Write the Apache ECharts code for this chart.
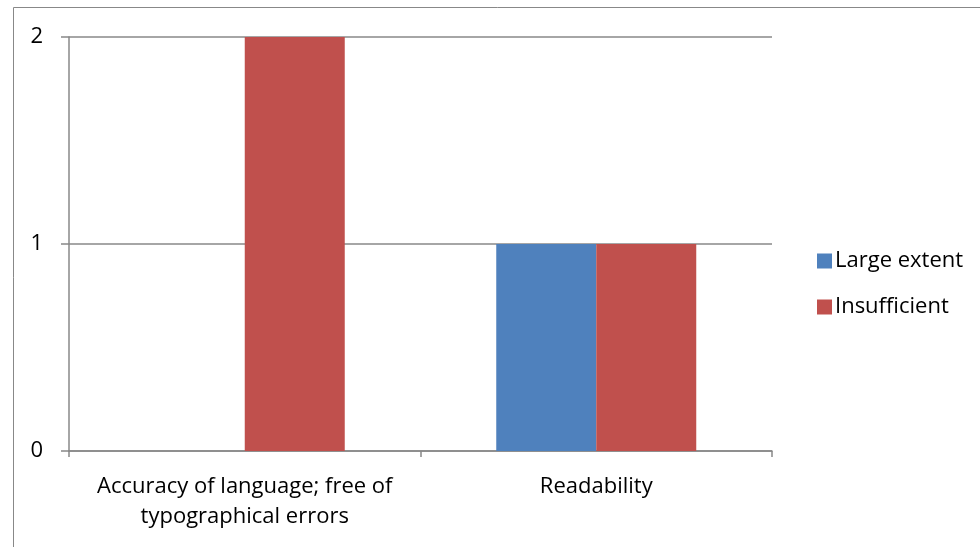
<!DOCTYPE html>
<html>
<head>
<meta charset="utf-8">
<script src="https://cdn.jsdelivr.net/npm/echarts@6/dist/echarts.min.js"></script>
<style>
  html, body { margin: 0; padding: 0; background: #fff; }
  #chart { width: 980px; height: 547px; }
</style>
</head>
<body>
<div id="chart"></div>
<script>
const categories = ['Accuracy of language; free of\ntypographical errors', 'Readability'];
const largeExtent = [0, 1];
const insufficient = [2, 1];
const yTicks = [0, 1, 2];

const chart = echarts.init(document.getElementById('chart'));
const font = 'Open Sans, Noto Sans, sans-serif';

chart.setOption({
  animation: false,
  textStyle: { fontFamily: font },
  graphic: [{
    type: 'rect',
    shape: { x: 13.5, y: 7.5, width: 1000, height: 600 },
    style: { fill: 'none', stroke: '#888', lineWidth: 1 },
    silent: true
  }],
  legend: {
    orient: 'vertical',
    left: 812,
    top: 241,
    itemWidth: 15,
    itemHeight: 15,
    itemGap: 16,
    icon: 'rect',
    textStyle: { fontSize: 22, lineHeight: 30, color: '#000', fontFamily: font, padding: [0, 0, 0, -2] },
    data: ['Large extent', 'Insufficient']
  },
  grid: { left: 69, right: 208, top: 37, bottom: 96 },
  xAxis: {
    type: 'category',
    data: categories,
    axisLine: { lineStyle: { color: '#888', width: 1.5 } },
    axisTick: { show: true, interval: 0, length: 6, lineStyle: { color: '#888', width: 1.5 } },
    axisLabel: {
      interval: 0, hideOverlap: false,
      color: '#000', fontSize: 22, lineHeight: 30, margin: 21, fontFamily: font
    }
  },
  yAxis: {
    type: 'value',
    min: yTicks[0],
    max: yTicks[yTicks.length - 1],
    interval: 1,
    axisLine: { show: true, lineStyle: { color: '#888', width: 1.5 } },
    axisTick: { show: true, length: 8, lineStyle: { color: '#888', width: 1.5 } },
    splitLine: { lineStyle: { color: '#888', width: 1.5 } },
    axisLabel: { color: '#000', fontSize: 22, margin: 26, fontFamily: font }
  },
  series: [
    {
      name: 'Large extent',
      type: 'bar',
      data: largeExtent,
      barWidth: 100,
      barGap: '0%',
      itemStyle: { color: '#4F81BD' }
    },
    {
      name: 'Insufficient',
      type: 'bar',
      data: insufficient,
      barWidth: 100,
      barGap: '0%',
      itemStyle: { color: '#C0504D' }
    }
  ]
});
</script>
</body>
</html>
